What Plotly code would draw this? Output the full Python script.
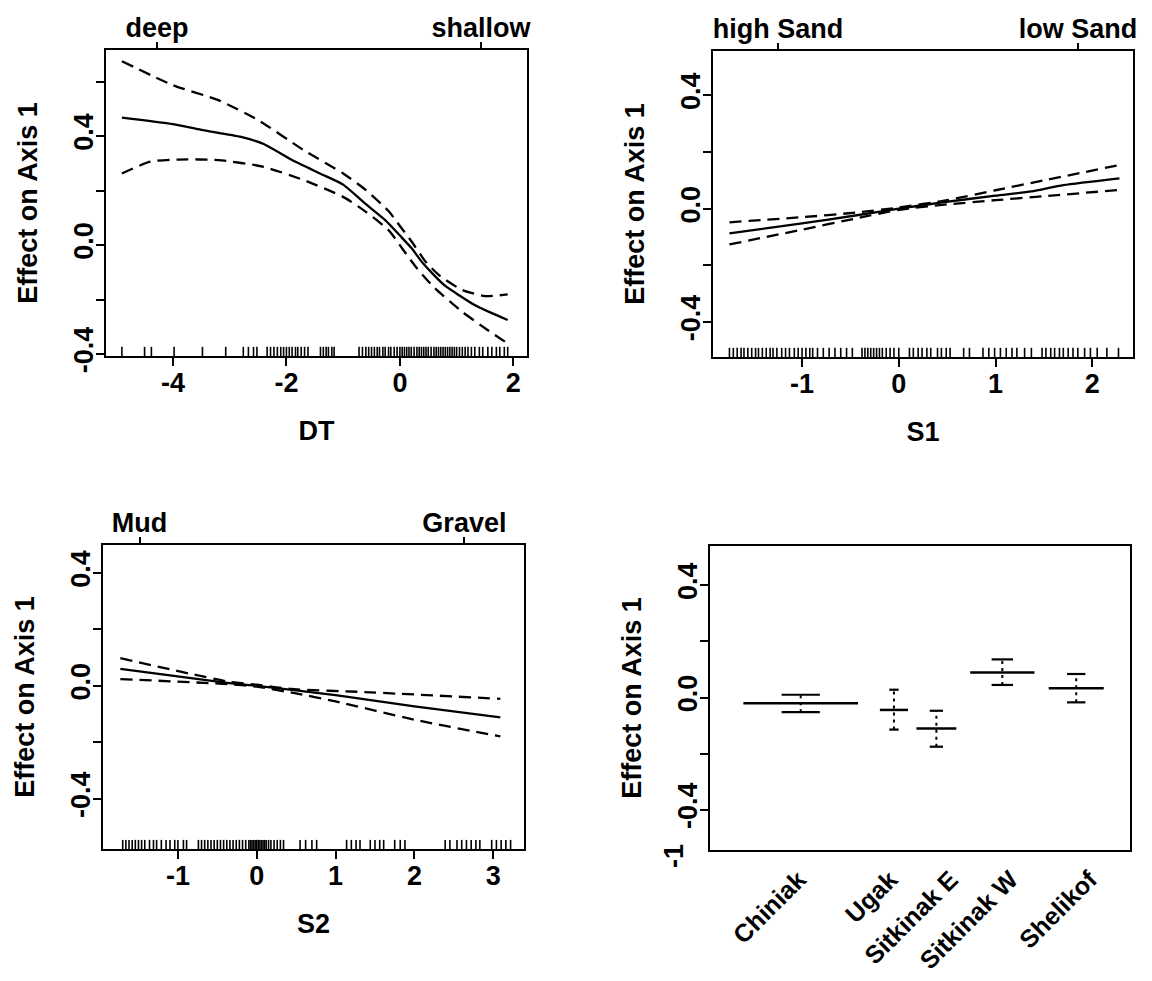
import plotly.graph_objects as go

# ---------------- data ----------------
# Panel 1 : DT (depth)
dt_fit_x = [-4.9, -4.0, -3.5, -2.8, -2.4, -1.9, -1.4, -1.0, -0.6, -0.25, 0.0, 0.2, 0.4, 0.6, 0.8, 1.05, 1.3, 1.6, 1.9]
dt_fit_y = [0.468, 0.444, 0.423, 0.397, 0.371, 0.312, 0.262, 0.222, 0.150, 0.090, 0.035, -0.010, -0.065, -0.110, -0.150, -0.185, -0.218, -0.248, -0.275]
dt_up_x = [-4.9, -4.0, -3.2, -2.5, -1.7, -1.0, -0.6, -0.2, 0.0, 0.2, 0.45, 0.7, 1.1, 1.5, 1.9]
dt_up_y = [0.675, 0.587, 0.532, 0.459, 0.349, 0.263, 0.202, 0.125, 0.070, 0.015, -0.060, -0.112, -0.165, -0.187, -0.181]
dt_lo_x = [-4.9, -4.4, -3.9, -3.2, -2.4, -1.7, -1.0, -0.6, -0.2, 0.05, 0.3, 0.6, 1.1, 1.5, 1.9]
dt_lo_y = [0.263, 0.306, 0.314, 0.312, 0.287, 0.239, 0.177, 0.122, 0.055, -0.015, -0.085, -0.155, -0.245, -0.305, -0.361]
dt_rug = [-4.9, -4.5, -4.38, -3.98, -3.48, -3.07, -2.76, -2.67, -2.58, -2.52, -2.34, -2.28, -2.22,
          -2.16, -2.1, -2.05, -2.0, -1.95, -1.9, -1.84, -1.8, -1.74, -1.68, -1.62, -1.4, -1.35, -1.3,
          -1.26, -1.2, -1.16, -0.72, -0.66, -0.6, -0.55, -0.5, -0.45, -0.4, -0.36, -0.3, -0.26, -0.2,
          -0.16, -0.1, -0.05, 0.0, 0.04, 0.08, 0.12, 0.16, 0.2, 0.25, 0.3, 0.34, 0.38, 0.42, 0.46, 0.5,
          0.55, 0.6, 0.64, 0.68, 0.72, 0.76, 0.8, 0.84, 0.88, 0.92, 0.96, 1.0, 1.05, 1.1, 1.15, 1.2,
          1.26, 1.32, 1.4, 1.46, 1.55, 1.62, 1.7, 1.76, 1.84, 1.9]
dt_xticks = [-4, -2, 0, 2]
dt_top_vals = [-4.28, 1.43]
dt_top_text = ["deep", "shallow"]

# Panel 2 : S1 (sand)
s1_fit_x = [-1.75, -1.0, -0.45, 0.0, 0.45, 1.0, 1.37, 1.7, 2.28]
s1_fit_y = [-0.087, -0.052, -0.024, 0.0, 0.022, 0.046, 0.061, 0.083, 0.107]
s1_up_x = [-1.75, -1.0, -0.45, 0.0, 0.5, 1.0, 1.5, 2.28]
s1_up_y = [-0.048, -0.030, -0.014, 0.004, 0.030, 0.065, 0.100, 0.154]
s1_lo_x = [-1.75, -1.0, -0.45, 0.0, 0.5, 1.0, 1.5, 2.28]
s1_lo_y = [-0.126, -0.074, -0.035, -0.004, 0.015, 0.030, 0.044, 0.066]
s1_rug = [-1.75, -1.71, -1.67, -1.63, -1.6, -1.56, -1.52, -1.48, -1.45, -1.41, -1.37, -1.33, -1.3, -1.26,
          -1.21, -1.17, -1.13, -1.08, -1.04, -1.0, -0.96, -0.92, -0.89, -0.84, -0.78, -0.72, -0.66,
          -0.6, -0.54, -0.48, -0.38, -0.35, -0.32, -0.29, -0.26, -0.23, -0.2, -0.17, -0.13, -0.09,
          -0.05, 0.0, 0.11, 0.15, 0.2, 0.24, 0.29, 0.33, 0.4, 0.44, 0.49, 0.53, 0.67, 0.73, 0.87, 0.93,
          0.99, 1.05, 1.11, 1.17, 1.22, 1.3, 1.37, 1.48, 1.52, 1.57, 1.61, 1.66, 1.7, 1.75, 1.8, 1.85,
          1.92, 1.98, 2.05, 2.15, 2.27]
s1_xticks = [-1, 0, 1, 2]
s1_top_vals = [-1.249, 1.852]
s1_top_text = ["high Sand", "low Sand"]

# Panel 3 : S2 (gravel)
s2_fit_x = [-1.73, -0.35, 0.0, 0.5, 1.0, 2.0, 3.09]
s2_fit_y = [0.060, 0.010, 0.0, -0.016, -0.033, -0.073, -0.112]
s2_up_x = [-1.73, -0.36, 0.0, 0.43, 1.37, 3.09]
s2_up_y = [0.098, 0.015, 0.004, -0.011, -0.022, -0.046]
s2_lo_x = [-1.73, -0.36, 0.0, 0.48, 1.0, 2.0, 3.09]
s2_lo_y = [0.024, 0.006, -0.003, -0.026, -0.055, -0.12, -0.179]
s2_rug = [-1.7, -1.66, -1.62, -1.58, -1.54, -1.5, -1.46, -1.42, -1.36, -1.31, -1.27, -1.21, -1.15,
          -1.1, -1.04, -1.0, -0.93, -0.89, -0.74, -0.7, -0.66, -0.62, -0.58, -0.54, -0.5, -0.46,
          -0.42, -0.38, -0.34, -0.3, -0.26, -0.22, -0.18, -0.14, -0.1, -0.08, -0.06, -0.04, -0.02,
          0.0, 0.02, 0.04, 0.06, 0.08, 0.1, 0.12, 0.15, 0.18, 0.22, 0.26, 0.3, 0.34, 0.55, 0.62,
          0.7, 0.76, 1.14, 1.2, 1.26, 1.31, 1.44, 1.5, 1.56, 1.61, 1.75, 1.82, 1.88, 2.39, 2.45,
          2.54, 2.6, 2.66, 2.72, 2.78, 2.83, 2.98, 3.04, 3.1, 3.16, 3.22]
s2_xticks = [-1, 0, 1, 2, 3]
s2_top_vals = [-1.487, 2.634]
s2_top_text = ["Mud", "Gravel"]

# Panel 4 : region factor
regions = ["Chiniak", "Ugak", "Sitkinak E", "Sitkinak W", "Shelikof"]
region_fit = [-0.020, -0.044, -0.110, 0.089, 0.033]
region_upper = [0.010, 0.028, -0.047, 0.136, 0.084]
region_lower = [-0.052, -0.114, -0.175, 0.045, -0.017]
region_center = [21.6, 43.8, 53.9, 69.6, 87.2]
region_width = [27.3, 6.7, 9.5, 15.3, 13.1]
region_label_pos = [21.1, 42.9, 57.3, 71.6, 90.4]

y_title = "Effect on Axis 1"

# ---------------- layout helpers ----------------
FONT = "Liberation Sans, Arial, Helvetica, sans-serif"
W, H = 1152, 981
FS = 27
tickfont = dict(family=FONT, size=FS, color="black", weight="bold")
titlefont = dict(family=FONT, size=FS, color="black", weight="bold")
catfont = dict(family=FONT, size=25, color="black", weight="bold")
DASH = "12px,7px"


def xdom(a, b):
    return [a / W, b / W]


def ydom(t, b):
    return [1 - b / H, 1 - t / H]


def base_axis(**kw):
    d = dict(showline=True, linecolor="black", linewidth=2, mirror=True,
             ticks="outside", ticklen=8, tickwidth=1.6, tickcolor="black",
             showgrid=False, zeroline=False, tickfont=tickfont,
             automargin=False, fixedrange=True)
    d.update(kw)
    return d


fig = go.Figure()
layout = {}

smooth_panels = [
    dict(n=1, fx=dt_fit_x, fy=dt_fit_y, ux=dt_up_x, uy=dt_up_y, lx=dt_lo_x, ly=dt_lo_y, rug=dt_rug,
         xr=[-5.18, 2.24], yr=[-0.407, 0.716], xd=(106, 527), yd=(50, 356),
         xt=dt_xticks, yt=[-0.4, -0.2, 0.0, 0.2, 0.4, 0.6], ytt=["-0.4", "", "0.0", "", "0.4", ""],
         top=(dt_top_vals, dt_top_text), title="DT"),
    dict(n=2, fx=s1_fit_x, fy=s1_fit_y, ux=s1_up_x, uy=s1_up_y, lx=s1_lo_x, ly=s1_lo_y, rug=s1_rug,
         xr=[-1.92, 2.42], yr=[-0.523, 0.556], xd=(713, 1133), yd=(51, 357),
         xt=s1_xticks, yt=[-0.4, -0.2, 0.0, 0.2, 0.4], ytt=["-0.4", "", "0.0", "", "0.4"],
         top=(s1_top_vals, s1_top_text), title="S1"),
    dict(n=3, fx=s2_fit_x, fy=s2_fit_y, ux=s2_up_x, uy=s2_up_y, lx=s2_lo_x, ly=s2_lo_y, rug=s2_rug,
         xr=[-1.95, 3.39], yr=[-0.578, 0.499], xd=(103, 524), yd=(545, 849),
         xt=s2_xticks, yt=[-0.4, -0.2, 0.0, 0.2, 0.4], ytt=["-0.4", "", "0.0", "", "0.4"],
         top=(s2_top_vals, s2_top_text), title="S2"),
]

for p in smooth_panels:
    n = p["n"]
    xa = "x" if n == 1 else f"x{n}"
    ya = "y" if n == 1 else f"y{n}"
    xkey = "xaxis" if n == 1 else f"xaxis{n}"
    ykey = "yaxis" if n == 1 else f"yaxis{n}"
    # fitted and +/- SE curves
    fig.add_trace(go.Scatter(x=p["fx"], y=p["fy"], mode="lines", xaxis=xa, yaxis=ya,
                             line=dict(color="black", width=2.3, shape="spline", smoothing=0.6),
                             showlegend=False, hoverinfo="skip"))
    for cx, cy in ((p["ux"], p["uy"]), (p["lx"], p["ly"])):
        fig.add_trace(go.Scatter(x=cx, y=cy, mode="lines", xaxis=xa, yaxis=ya,
                                 line=dict(color="black", width=2.3, dash=DASH, shape="spline", smoothing=0.6),
                                 showlegend=False, hoverinfo="skip"))
    # rug
    y0 = p["yr"][0]
    y1 = y0 + 0.03 * (p["yr"][1] - p["yr"][0])
    rx, ry = [], []
    for r in p["rug"]:
        rx += [r, r, None]
        ry += [y0, y1, None]
    fig.add_trace(go.Scatter(x=rx, y=ry, mode="lines", xaxis=xa, yaxis=ya,
                             line=dict(color="black", width=1.6),
                             showlegend=False, hoverinfo="skip"))
    layout[xkey] = base_axis(domain=xdom(*p["xd"]), anchor=ya, range=p["xr"],
                             tickvals=p["xt"], ticktext=[str(v) for v in p["xt"]],
                             ticklabelstandoff=-6,
                             title=dict(text=p["title"], font=titlefont, standoff=24))
    layout[ykey] = base_axis(domain=ydom(*p["yd"]), anchor=xa, range=p["yr"],
                             tickvals=p["yt"], ticktext=p["ytt"], tickangle=-90,
                             ticklabelstandoff=-8,
                             title=dict(text=y_title, font=titlefont, standoff=24))
    # top descriptive axis
    tn = n + 4
    tkey = f"xaxis{tn}"
    fig.add_trace(go.Scatter(x=[], y=[], xaxis=f"x{tn}", yaxis=ya, mode="markers",
                             showlegend=False, hoverinfo="skip"))
    layout[tkey] = dict(overlaying=xa, anchor=ya, side="top", range=p["xr"],
                        tickvals=p["top"][0], ticktext=p["top"][1],
                        ticks="outside", ticklen=7, tickwidth=1.6, tickcolor="black",
                        ticklabelstandoff=-6,
                        showline=False, showgrid=False, zeroline=False,
                        tickfont=tickfont, automargin=False, fixedrange=True)

# ---------------- panel 4 : factor effects ----------------
seg_x, seg_y = [], []
bar_x, bar_y = [], []
cap_x, cap_y = [], []
for c, w, f, u, l in zip(region_center, region_width, region_fit, region_upper, region_lower):
    seg_x += [c - w / 2, c + w / 2, None]
    seg_y += [f, f, None]
    bar_x += [c, c, None]
    bar_y += [l, u, None]
    cw = w / 3
    for v in (u, l):
        cap_x += [c - cw / 2, c + cw / 2, None]
        cap_y += [v, v, None]

fig.add_trace(go.Scatter(x=bar_x, y=bar_y, mode="lines", xaxis="x4", yaxis="y4",
                         line=dict(color="black", width=2, dash="3px,4px"),
                         showlegend=False, hoverinfo="skip"))
fig.add_trace(go.Scatter(x=cap_x, y=cap_y, mode="lines", xaxis="x4", yaxis="y4",
                         line=dict(color="black", width=2.2),
                         showlegend=False, hoverinfo="skip"))
fig.add_trace(go.Scatter(x=seg_x, y=seg_y, mode="lines", xaxis="x4", yaxis="y4",
                         line=dict(color="black", width=2.5),
                         showlegend=False, hoverinfo="skip"))

layout["xaxis4"] = base_axis(domain=xdom(710, 1130), anchor="y4", range=[0, 100],
                             tickvals=region_label_pos, ticktext=regions, tickangle=-45,
                             ticks="", ticklabelstandoff=3, tickfont=catfont)
layout["yaxis4"] = base_axis(domain=ydom(546, 850), anchor="x4", range=[-0.543, 0.54],
                             tickvals=[-0.4, -0.2, 0.0, 0.2, 0.4], ticktext=["-0.4", "", "0.0", "", "0.4"],
                             tickangle=-90, ticklabelstandoff=-8,
                             title=dict(text=y_title, font=titlefont, standoff=24))

fig.update_layout(
    width=W, height=H, template="none",
    margin=dict(l=0, r=0, t=0, b=0),
    paper_bgcolor="white", plot_bgcolor="white",
    font=dict(family=FONT, size=FS, color="black"),
    showlegend=False,
    annotations=[dict(text="-1", x=674 / W, y=1 - 870 / H, xref="paper", yref="paper",
                      showarrow=False, textangle=-90, font=tickfont)],
    **layout,
)

fig.write_html("out.html")
